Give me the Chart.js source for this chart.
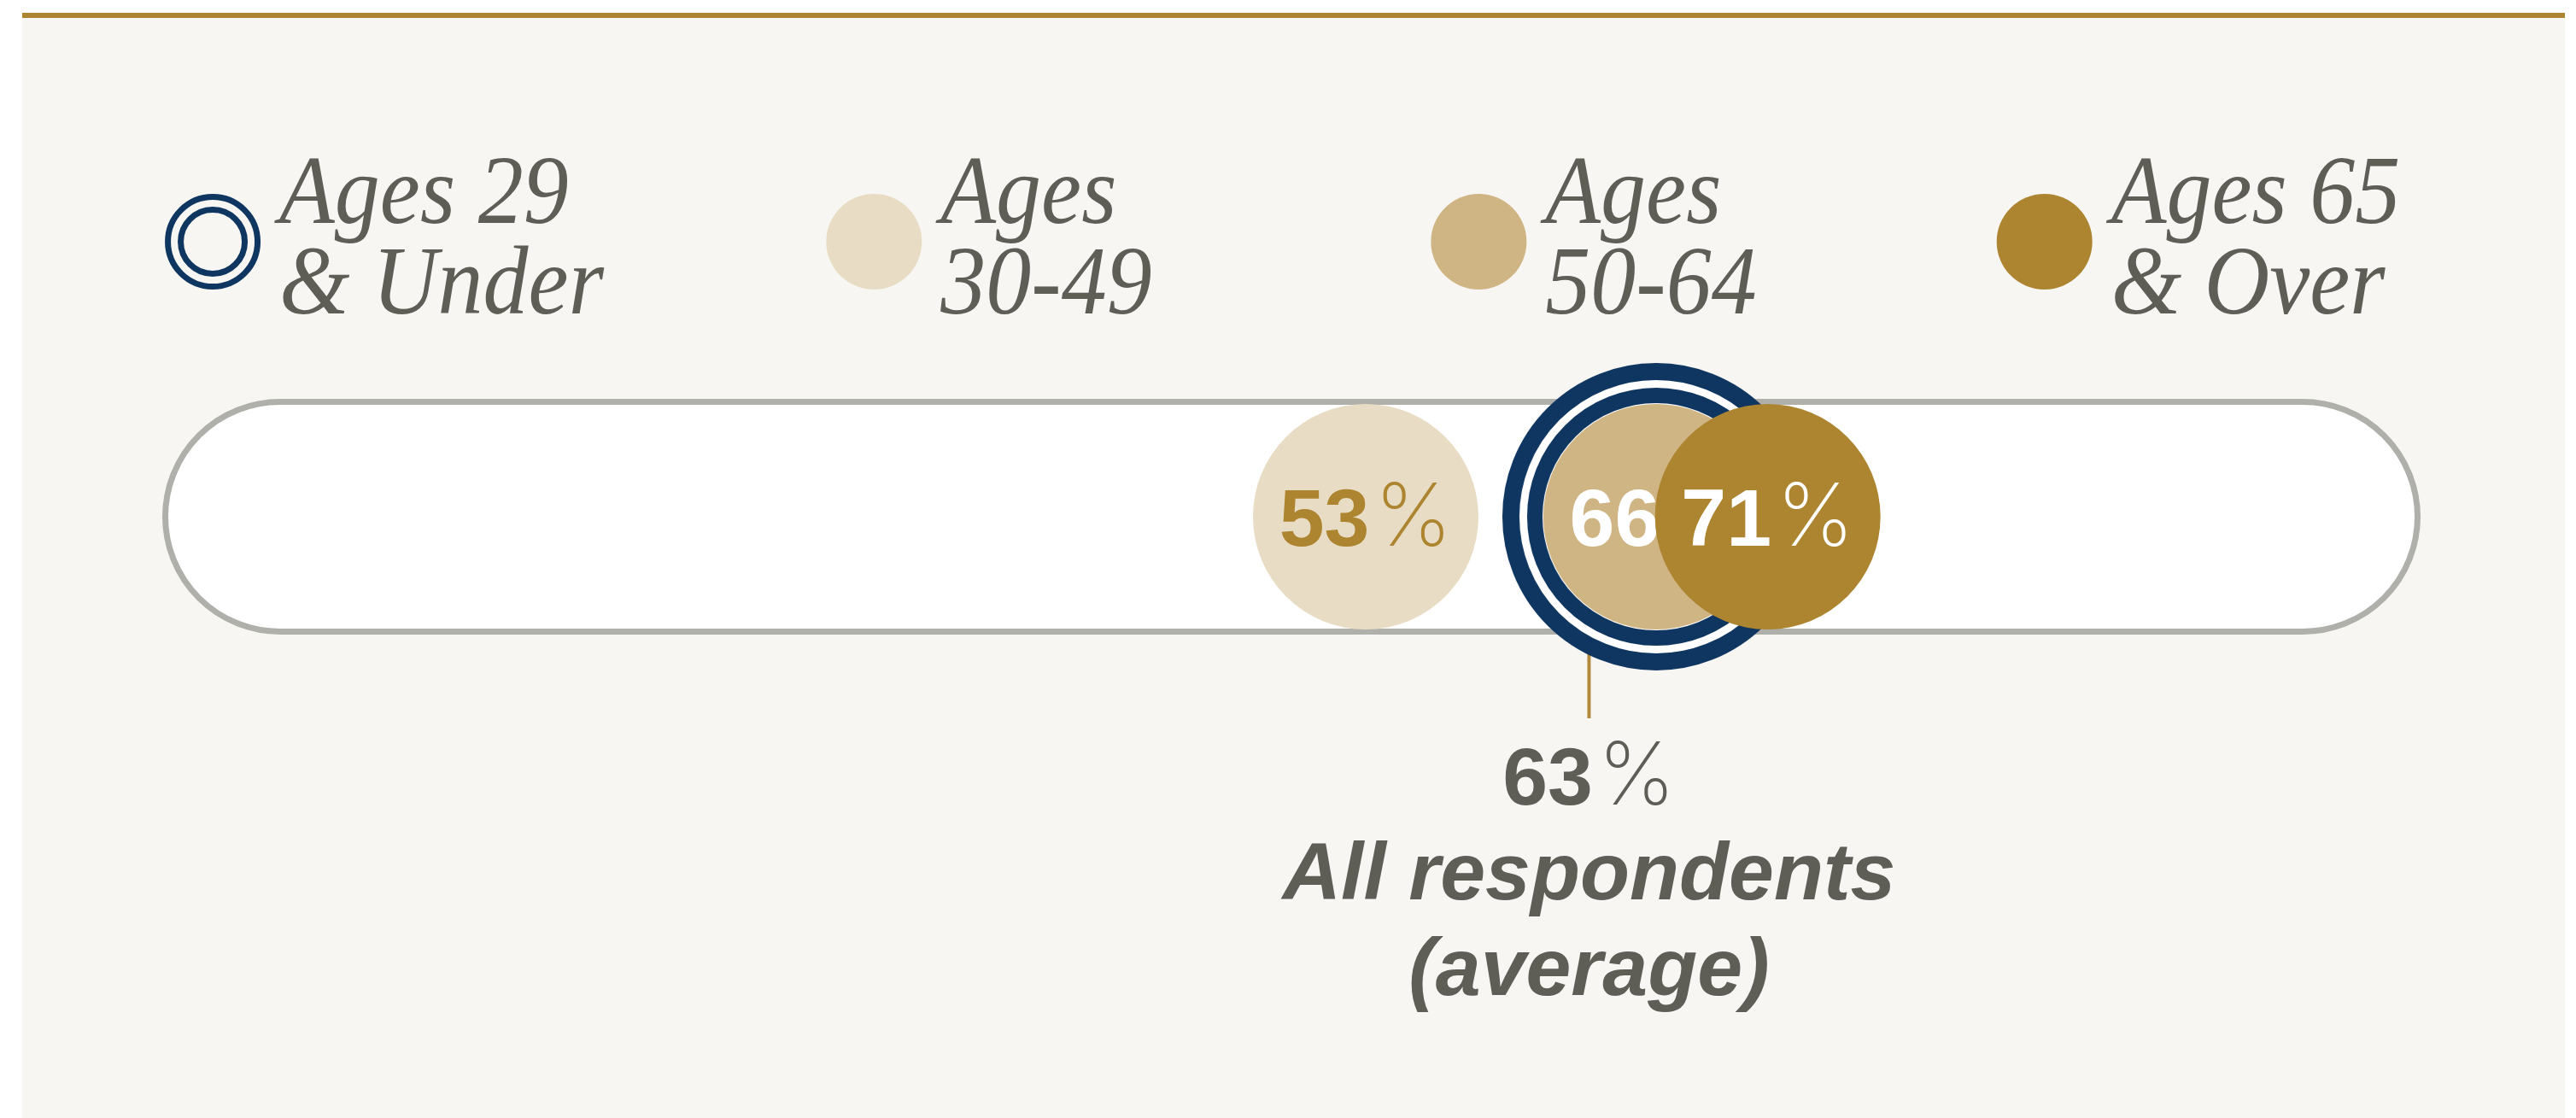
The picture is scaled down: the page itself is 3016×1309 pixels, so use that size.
<!DOCTYPE html>
<html>
<head>
<meta charset="utf-8">
<title>Share by age group</title>
<script src="https://cdn.jsdelivr.net/npm/chart.js@4.4.1/dist/chart.umd.min.js"></script>
<style>
  html, body { margin: 0; padding: 0; background: #ffffff; }
  canvas { display: block; }
</style>
</head>
<body>
<canvas id="graph_age" width="3016" height="1309"></canvas>
<script>
// data
var groups = [['Ages 29', '& Under'], ['Ages', '30-49'], ['Ages', '50-64'], ['Ages 65', '& Over']];
var shares = [66, 53, 66, 71];
var average = 63;
var averageText = ['All respondents', '(average)'];
var scaleRange = [0, 100];

// styles
var navy = '#0f3661';
var gold = '#ad8430';
var gray = '#5e5e57';
var colors = [navy, '#e8ddc4', '#d0b584', gold];
var labelColors = [null, gold, '#ffffff', '#ffffff'];
var drawOrder = [2, 3, 1, 0]; // higher = further back
var sans = "'Liberation Sans', Arial, sans-serif";
var thin = "200 102px Inter, 'Liberation Sans', sans-serif";
var serif = "'Liberation Serif', 'Times New Roman', serif";
var squeeze = 0.93; // legend text is set a little condensed
var column = 708;   // legend column width

// double ring used as point style for the youngest group
var ring = document.createElement('canvas');
ring.width = 362;
ring.height = 362;
var rc = ring.getContext('2d');
rc.translate(181, 181);
rc.fillStyle = '#ffffff';
rc.beginPath(); rc.arc(0, 0, 170, 0, Math.PI * 2); rc.fill();
rc.strokeStyle = navy;
rc.lineWidth = 20;
rc.beginPath(); rc.arc(0, 0, 170, 0, Math.PI * 2); rc.stroke();
rc.lineWidth = 18;
rc.beginPath(); rc.arc(0, 0, 142, 0, Math.PI * 2); rc.stroke();

function pill(ctx, x, y, w, h) {
    var r = h / 2;
    ctx.beginPath();
    ctx.moveTo(x + r, y);
    ctx.lineTo(x + w - r, y);
    ctx.arc(x + w - r, y + r, r, -Math.PI / 2, Math.PI / 2);
    ctx.lineTo(x + r, y + h);
    ctx.arc(x + r, y + r, r, Math.PI / 2, Math.PI * 1.5);
    ctx.closePath();
}

// "53 %" : bold number, thin percent sign
function drawValue(ctx, value, cx, baseline, color) {
    var num = String(value);
    var gap = 6;
    ctx.font = 'bold 95px ' + sans;
    var w1 = ctx.measureText(num).width;
    ctx.font = thin;
    var w2 = ctx.measureText('%').width;
    var x = cx - (w1 + gap + w2) / 2;
    ctx.fillStyle = color;
    ctx.textAlign = 'left';
    ctx.textBaseline = 'alphabetic';
    ctx.font = 'bold 95px ' + sans;
    ctx.fillText(num, x, baseline);
    ctx.font = thin;
    ctx.fillText('%', x + w1 + gap, baseline);
}

function drawIcon(ctx, i, cx, cy) {
    ctx.save();
    if (i === 0) {
        ctx.strokeStyle = navy;
        ctx.lineWidth = 7;
        ctx.beginPath(); ctx.arc(cx, cy, 52.5, 0, Math.PI * 2); ctx.stroke();
        ctx.beginPath(); ctx.arc(cx, cy, 37.5, 0, Math.PI * 2); ctx.stroke();
    } else {
        ctx.fillStyle = colors[i];
        ctx.beginPath(); ctx.arc(cx, cy, 56, 0, Math.PI * 2); ctx.fill();
    }
    ctx.restore();
}

var bubblePlugin = {
    id: 'bubbleTrack',
    beforeDraw: function (chart) {
        var ctx = chart.ctx;
        ctx.save();
        ctx.fillStyle = '#ffffff';
        ctx.fillRect(0, 0, chart.width, chart.height);
        ctx.fillStyle = '#f7f6f2';
        ctx.fillRect(26, 21, 2977, chart.height - 21);
        ctx.fillStyle = gold;
        ctx.fillRect(26, 15, 2977, 6);
        ctx.restore();
    },
    beforeDatasetsDraw: function (chart) {
        var ctx = chart.ctx;
        var xs = chart.scales.x;
        var cy = chart.scales.y.getPixelForValue(0);
        var left = xs.getPixelForValue(scaleRange[0]) - 23;
        var right = xs.getPixelForValue(scaleRange[1]) + 6;
        ctx.save();
        // track
        pill(ctx, left + 3.5, cy - 134.5, right - left - 7, 269);
        ctx.fillStyle = '#ffffff';
        ctx.fill();
        ctx.strokeStyle = '#b0b0ab';
        ctx.lineWidth = 7;
        ctx.stroke();
        // average marker
        var ax = xs.getPixelForValue(average);
        ctx.strokeStyle = '#b3893a';
        ctx.lineWidth = 4;
        ctx.beginPath();
        ctx.moveTo(ax, cy);
        ctx.lineTo(ax, cy + 236);
        ctx.stroke();
        ctx.restore();
    },
    afterDatasetDraw: function (chart, args) {
        var i = args.index;
        if (!labelColors[i]) return;
        var pt = args.meta.data[0];
        drawValue(chart.ctx, shares[i], pt.x, pt.y + 34, labelColors[i]);
    },
    afterDraw: function (chart) {
        var ctx = chart.ctx;
        var xs = chart.scales.x;
        var cy = chart.scales.y.getPixelForValue(0);
        ctx.save();

        // average label
        var ax = xs.getPixelForValue(average);
        drawValue(ctx, average, ax, cy + 337, gray);
        ctx.font = 'italic bold 95px ' + sans;
        ctx.fillStyle = gray;
        ctx.textAlign = 'center';
        averageText.forEach(function (t, k) {
            ctx.fillText(t, ax, cy + 448 + k * 112);
        });

        // legend: each item centred in an equal column, columns centred on the track
        var mid = (xs.getPixelForValue(scaleRange[0]) - 23 + xs.getPixelForValue(scaleRange[1]) + 6) / 2;
        var iconY = 283;
        ctx.font = 'italic 114px ' + serif;
        groups.forEach(function (g, i) {
            var tw = squeeze * Math.max.apply(null, g.map(function (t) { return ctx.measureText(t).width; }));
            var w = 134 + tw;
            var x = mid + (i - (groups.length - 1) / 2) * column - w / 2;
            drawIcon(ctx, i, x + 56, iconY);
            ctx.save();
            ctx.translate(x + 134, 0);
            ctx.scale(squeeze, 1);
            ctx.fillStyle = gray;
            ctx.textAlign = 'left';
            ctx.fillText(g[0], 0, iconY - 22);
            ctx.fillText(g[1], 0, iconY + 84);
            ctx.restore();
        });
        ctx.restore();
    }
};

var ctx = document.getElementById('graph_age');

var myChart_age = new Chart(ctx, {
    type: 'scatter',
    data: {
        datasets: shares.map(function (v, i) {
            return {
                label: groups[i].join(' '),
                data: [{ x: v, y: 0 }],
                pointStyle: i === 0 ? ring : 'circle',
                pointRadius: 132,
                pointHoverRadius: 132,
                pointBackgroundColor: colors[i],
                pointBorderWidth: 0,
                order: drawOrder[i],
                clip: false
            };
        })
    },
    options: {
        responsive: false,
        animation: false,
        devicePixelRatio: 1,
        events: [],
        layout: {
            padding: { left: 213, right: 188, top: 467, bottom: 566 }
        },
        scales: {
            x: { type: 'linear', min: scaleRange[0], max: scaleRange[1], display: false },
            y: { min: -1, max: 1, display: false }
        },
        plugins: {
            legend: { display: false },
            tooltip: { enabled: false }
        }
    },
    plugins: [bubblePlugin]
});
</script>
</body>
</html>
